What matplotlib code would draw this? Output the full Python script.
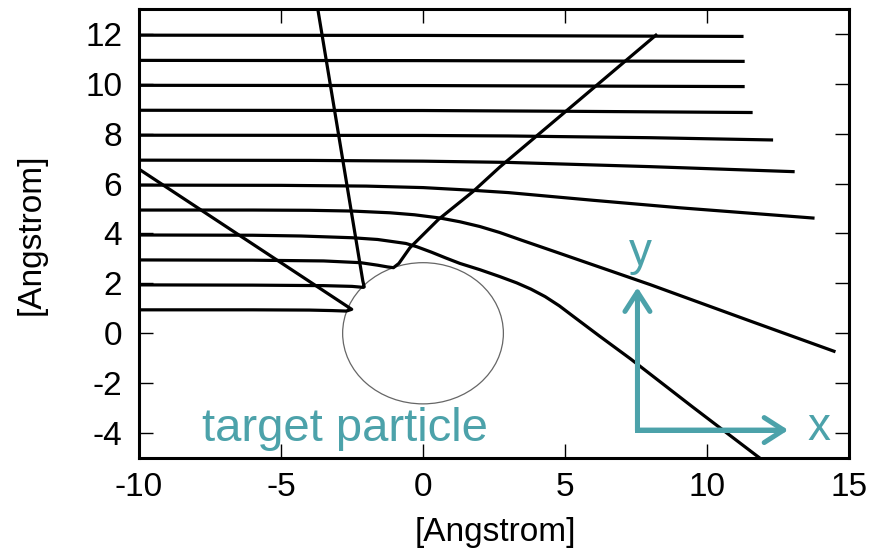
import matplotlib.pyplot as plt
from matplotlib.patches import Circle

# trajectories of incoming particles (Angstrom), start at x = -10
traj_1_x = [-10, -6, -4, -3.2, -2.7, -2.51, -10]
traj_1_y = [0.94, 0.94, 0.93, 0.91, 0.89, 0.96, 6.58]

traj_2_x = [-10, -6, -3.5, -2.5, -2.1, -2.07, -2.12, -3.72]
traj_2_y = [1.94, 1.93, 1.91, 1.88, 1.84, 1.86, 2.1, 13.1]

traj_3_x = [-10, -6, -3.5, -2.2, -1.6, -1.25, -1.04, -0.85, -0.46, 0.54, 1.77, 2.71, 5.5, 8.2]
traj_3_y = [2.94, 2.93, 2.9, 2.83, 2.73, 2.66, 2.63, 2.8, 3.43, 4.56, 5.69, 6.67, 9.35, 11.95]

traj_4_x = [-10, -6, -4.3, -2.5, -1.6, -1.16, -0.6, -0.22, 0.3, 0.8, 1.3, 2.0, 2.71,
            3.3, 3.8, 4.3, 4.8, 5.3, 6.2, 7.3, 9.5, 11.75, 11.95]
traj_4_y = [3.94, 3.93, 3.9, 3.83, 3.76, 3.69, 3.6, 3.47, 3.25, 3.02, 2.8, 2.55, 2.27,
            2.02, 1.77, 1.47, 1.1, 0.67, -0.1, -1.02, -2.96, -4.91, -5.08]

traj_5_x = [-10, -6, -4, -2.5, -1.16, -0.3, 0.6, 1.3, 2.0, 2.7, 3.5, 4.7, 8.0, 11.5, 14.47]
traj_5_y = [4.94, 4.94, 4.93, 4.9, 4.83, 4.75, 4.62, 4.47, 4.28, 4.04, 3.72, 3.25, 1.95, 0.5, -0.72]

traj_6_x = [-10, -5, -2, 0, 1.77, 3, 6, 9.05, 13.73]
traj_6_y = [5.94, 5.93, 5.9, 5.84, 5.73, 5.64, 5.33, 5.03, 4.62]

traj_7_x = [-10, -4, 0, 3, 8, 13.03]
traj_7_y = [6.94, 6.93, 6.9, 6.85, 6.68, 6.48]

traj_8_x = [-10, 0, 3, 8, 12.27]
traj_8_y = [7.94, 7.93, 7.91, 7.84, 7.75]

traj_9_x = [-10, 0, 5, 11.55]
traj_9_y = [8.94, 8.93, 8.9, 8.85]

traj_10_x = [-10, 0, 11.27]
traj_10_y = [9.94, 9.93, 9.89]

traj_11_x = [-10, 0, 11.27]
traj_11_y = [10.94, 10.93, 10.9]

traj_12_x = [-10, 0, 11.23]
traj_12_y = [11.95, 11.94, 11.9]

trajectories = [
    (traj_1_x, traj_1_y), (traj_2_x, traj_2_y), (traj_3_x, traj_3_y),
    (traj_4_x, traj_4_y), (traj_5_x, traj_5_y), (traj_6_x, traj_6_y),
    (traj_7_x, traj_7_y), (traj_8_x, traj_8_y), (traj_9_x, traj_9_y),
    (traj_10_x, traj_10_y), (traj_11_x, traj_11_y), (traj_12_x, traj_12_y),
]

target_radius = 2.83
x_ticks = [-10, -5, 0, 5, 10, 15]
y_ticks = [-4, -2, 0, 2, 4, 6, 8, 10, 12]

teal = "#4ca2aa"
plt.rcParams["font.family"] = ["Liberation Sans", "DejaVu Sans"]
plt.rcParams["axes.unicode_minus"] = False

fig = plt.figure(figsize=(8.77, 5.58), dpi=100)
ax = fig.add_axes([0.1585, 0.1792, 0.8096, 0.8047])

for tx, ty in trajectories:
    ax.plot(tx, ty, color="black", lw=2.3, solid_joinstyle="round")

ax.add_patch(Circle((0, 0), target_radius, fill=False, ec="#666666", lw=0.9))

ax.set_xlim(-10, 15)
ax.set_ylim(-5, 13)
ax.set_xticks(x_ticks)
ax.set_yticks(y_ticks)
ax.tick_params(direction="in", length=10, width=1.0, top=True, right=True,
               labelsize=24)
ax.tick_params(axis="y", pad=12)
ax.tick_params(axis="x", pad=10)
for sp in ax.spines.values():
    sp.set_linewidth(2.2)

fig.text(0.5644, 0.045, "[Angstrom]", ha="center", va="center", fontsize=24)
fig.text(0.036, 0.58, "[Angstrom]", ha="center", va="center", fontsize=24,
         rotation=90)

# annotations
ax.text(-2.75, -4.3, "target particle", color=teal, fontsize=34,
        ha="center", va="baseline")
corner_x, corner_y = 7.55, -3.88
ax.plot([corner_x, corner_x, 12.5], [1.5, corner_y, corner_y], color=teal,
        lw=3.6, solid_joinstyle="miter", solid_capstyle="butt")
for tip in [(corner_x, 1.84), (12.86, corner_y)]:
    ax.annotate("", xy=tip, xytext=(corner_x, corner_y),
                arrowprops=dict(arrowstyle="->,head_length=0.7,head_width=0.45",
                                color=teal, lw=3.6, shrinkA=0, shrinkB=0,
                                mutation_scale=20, capstyle="round"))
ax.text(7.67, 2.72, "y", color=teal, fontsize=33, ha="center", va="baseline")
ax.text(13.94, -4.28, "x", color=teal, fontsize=33, ha="center", va="baseline")

fig.savefig("out.png", dpi=100)
